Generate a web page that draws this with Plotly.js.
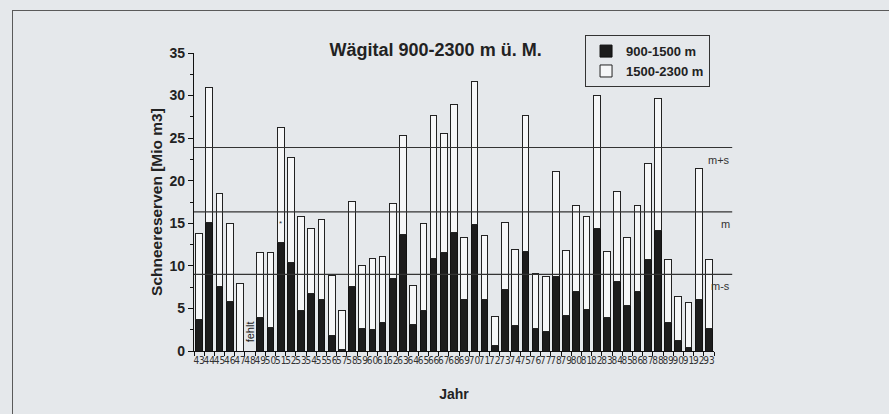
<!DOCTYPE html>
<html>
<head>
<meta charset="utf-8">
<script src="https://cdn.plot.ly/plotly-3.0.1.min.js"></script>
<style>
html,body{margin:0;padding:0;background:#e5e8eb;overflow:hidden;width:889px;height:414px;}
#wrap{position:relative;width:889px;height:414px;overflow:hidden;}
#frame{position:absolute;left:12px;top:10px;width:900px;height:420px;border-left:1.5px solid #5a5a5a;border-top:1.5px solid #5a5a5a;pointer-events:none;}
#chart{position:absolute;left:0;top:0;width:889px;height:414px;}
</style>
</head>
<body>
<div id="wrap">
<div id="frame"></div>
<div id="chart"></div>
</div>
<script>
// Years (two-digit labels), 1943-1993
const years = ["43","44","45","46","47","48","49","50","51","52","53","54","55","56","57","58","59","60","61","62","63","64","65","66","67","68","69","70","71","72","73","74","75","76","77","78","79","80","81","82","83","84","85","86","87","88","89","90","91","92","93"];
// Snow reserves 900-1500 m [Mio m3]
const low = [3.7,15.1,7.6,5.8,0,null,3.9,2.8,12.7,10.4,4.8,6.8,6.0,1.8,0.2,7.6,2.6,2.5,3.4,8.5,13.7,3.1,4.7,10.9,11.6,13.9,6.1,14.9,6.0,0.6,7.2,3.0,11.7,2.6,2.3,8.7,4.2,7.0,4.9,14.4,3.9,8.2,5.4,7.0,10.7,14.2,3.3,1.2,0.4,6.0,2.6];
// Snow reserves 1500-2300 m [Mio m3]
const high = [10.1,15.9,10.9,9.2,7.9,null,7.7,8.8,13.5,12.3,11.0,7.6,9.4,7.1,4.5,10.0,7.4,8.4,7.7,8.8,11.6,4.6,10.3,16.8,13.9,15.1,7.2,16.7,7.6,3.4,7.9,8.9,16.0,6.5,6.4,12.4,7.6,10.1,10.9,15.6,7.8,10.5,7.9,10.1,11.3,15.4,7.4,5.2,5.3,15.4,8.1];
// Reference lines: mean plus/minus standard deviation
const refLabels = ["m+s","m","m-s"];
const refValues = [23.9,16.35,9.0];
// Notes on the chart
const missingYear = "48";
const starYear = "51";

const traces = [
  {type:'bar', x:years, y:low, name:'900-1500 m',
   marker:{color:'#1c1c1c', line:{color:'#111', width:1}}},
  {type:'bar', x:years, y:high, name:'1500-2300 m',
   marker:{color:'#f6f7f8', line:{color:'#222', width:1}}}
];

const shapes = [];
const annotations = [];
refValues.forEach((v,i)=>{
  shapes.push({type:'line', xref:'paper', yref:'y', x0:0, x1:1.035, y0:v, y1:v,
    line:{color:'#333', width:1.2}});
  annotations.push({xref:'paper', yref:'y', x:1.035, y:v, yshift:-12, xanchor:'right',
    text:refLabels[i], showarrow:false, font:{family:'Liberation Sans, Arial', size:11, color:'#333'}});
});
annotations.push({xref:'x', yref:'y', x:years.indexOf(missingYear), y:2.2, text:'fehlt', textangle:-90, showarrow:false,
  font:{family:'Liberation Sans, Arial', size:11, color:'#222'}});
annotations.push({xref:'x', yref:'y', x:years.indexOf(starYear), y:15.0, text:'*', showarrow:false,
  font:{family:'Liberation Sans, Arial', size:8, color:'#333'}});

const layout = {
  width:889, height:414,
  paper_bgcolor:'rgba(0,0,0,0)', plot_bgcolor:'rgba(0,0,0,0)',
  margin:{l:194, r:175, t:53, b:63},
  barmode:'stack', bargap:0.34,
  showlegend:true,
  title:{text:'Wägital 900-2300 m ü. M.', x:0.49, xanchor:'center', y:0.88, yanchor:'middle',
    font:{family:'Liberation Sans, Arial', size:18, color:'#222', weight:'bold'}},
  legend:{x:0.752, y:1.06, xanchor:'left', yanchor:'top', traceorder:'normal',
    bgcolor:'rgba(0,0,0,0)', bordercolor:'#333', borderwidth:1,
    font:{family:'Liberation Sans, Arial', size:13, color:'#222', weight:'bold'},
    itemwidth:30, tracegroupgap:0},
  xaxis:{type:'category', range:[-0.5,50.5], showgrid:false, zeroline:false,
    showline:true, linecolor:'#111', linewidth:1.2,
    tickmode:'array', tickvals:years, ticktext:years,
    ticks:'outside', tickson:'boundaries', ticklen:4, tickcolor:'#111',
    tickangle:0,
    tickfont:{family:'Liberation Sans Narrow, Arial Narrow, DejaVu Sans Condensed', size:10, color:'#333'},
    title:{text:'Jahr', standoff:24, font:{family:'Liberation Sans, Arial', size:14, color:'#222', weight:'bold'}}},
  yaxis:{range:[0,35], dtick:5, showgrid:false, zeroline:false,
    showline:true, linecolor:'#111', linewidth:1.2,
    ticks:'outside', ticklen:5, tickcolor:'#111',
    minor:{dtick:2.5, ticks:'outside', ticklen:3, tickcolor:'#111', showgrid:false},
    tickfont:{family:'Liberation Sans, Arial', size:14, color:'#222', weight:'bold'},
    title:{text:'Schneereserven [Mio m3]', standoff:3, font:{family:'Liberation Sans, Arial', size:15.5, color:'#222', weight:'bold'}}},
  shapes:shapes,
  annotations:annotations
};

Plotly.newPlot('chart', traces, layout, {displayModeBar:false, staticPlot:true});
</script>
</body>
</html>
